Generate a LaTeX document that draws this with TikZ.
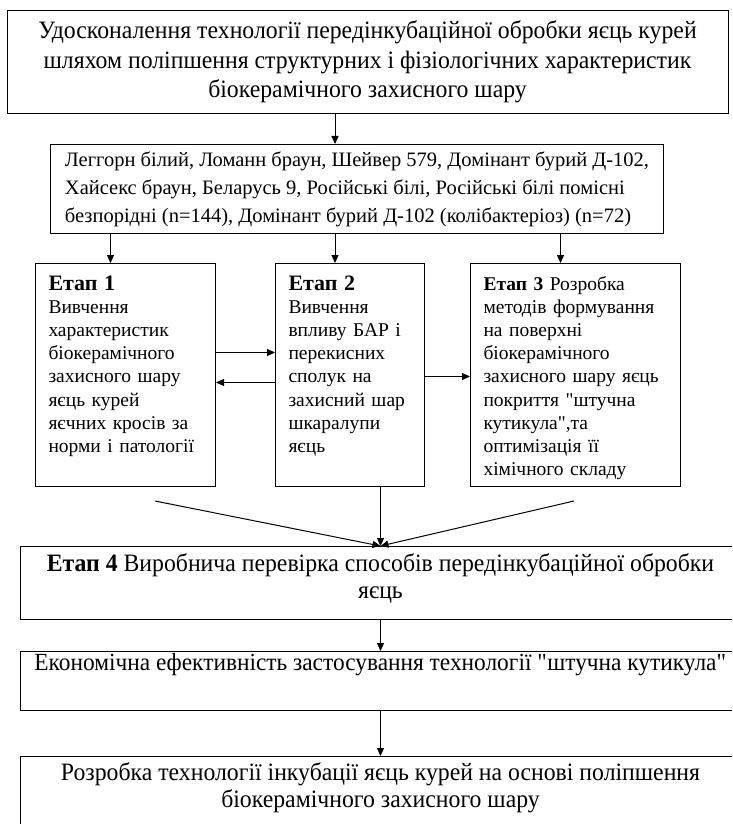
\documentclass[tikz,border=0pt]{standalone}
\usepackage{fontspec}
\setmainfont{Liberation Serif}
\newfontfamily\narrowserif{Liberation Serif}[FakeStretch=0.95]
\usetikzlibrary{arrows.meta}
\usetikzlibrary{positioning}
\tikzset{>={Triangle[length=8pt,width=7pt]}}
\newcommand\headsize{\narrowserif\fontsize{25}{29.5}\selectfont}
\newcommand\lowsize{\narrowserif\fontsize{25}{26.5}\selectfont}
\newcommand\breedsize{\fontsize{20.5}{28}\selectfont}
\newcommand\stagesize{\fontsize{19.5}{23.2}\selectfont}
\tikzset{
    frame/.style = {draw, line width=1pt},
    link/.style = {->, line width=1pt},
    goalbox/.style = {frame, font=\headsize, align=center, inner sep=0pt, minimum width=721pt, minimum height=103pt, anchor=north west},
    breedbox/.style = {frame, font=\breedsize, align=left, inner sep=0pt, minimum width=613pt, minimum height=89pt, anchor=north west},
    stagebox/.style = {frame, font=\stagesize, align=left, inner xsep=13pt, inner ysep=10.5pt, text height=16pt, text depth=186pt},
    widebox/.style = {frame, font=\lowsize, align=flush center, text width=716pt, inner xsep=2pt, inner ysep=4pt},
}
\newcommand\stagehead[1]{{\fontsize{22}{23.2}\selectfont\bfseries #1}}

\begin{document}
\begin{tikzpicture}[x=1pt,y=-1pt]
    \useasboundingbox (0,0) rectangle (732,824);
    \clip (0,0) rectangle (732,824);
    \node (goal) [goalbox] at (6.5,10) {Удосконалення технології передінкубаційної обробки яєць курей\\шляхом поліпшення структурних і фізіологічних характеристик\\біокерамічного захисного шару};
    \node (breeds) [breedbox] at (50,144) {Леггорн білий, Ломанн браун, Шейвер 579, Домінант бурий Д-102,\\Хайсекс браун, Беларусь 9, Російські білі, Російські білі помісні\\безпорідні (n=144), Домінант бурий Д-102 (колібактеріоз) (n=72)};
    \node (stage1) [stagebox, text width=154pt, anchor=north west] at (35,263) {\stagehead{Етап 1}\\Вивчення\\характеристик\\біокерамічного\\захисного шару\\яєць курей\\яєчних кросів за\\норми і патології};
    \node (stage2) [stagebox, text width=123pt, right=59pt of stage1] {\stagehead{Етап 2}\\Вивчення\\впливу БАР і\\перекисних\\сполук на\\захисний шар\\шкаралупи\\яєць};
    \node (stage3) [stagebox, text width=184pt, right=45pt of stage2] {\textbf{Етап 3} Розробка\\методів формування\\на поверхні\\біокерамічного\\захисного шару яєць\\покриття \textquotedbl штучна\\кутикула\textquotedbl,та\\оптимізація її\\хімічного складу};
    \node (stage4) [widebox, text height=21pt, text depth=44pt, anchor=north west] at (20,546) {\textbf{Етап 4} Виробнича перевірка способів передінкубаційної обробки\\яєць};
    \node (econ) [widebox, font=\narrowserif\fontsize{24.6}{26.5}\selectfont, text height=15pt, text depth=36pt, below=31pt of stage4] {Економічна ефективність застосування технології \textquotedbl штучна кутикула\textquotedbl\hspace*{14pt}};
    \node (result) [widebox, text height=20pt, text depth=78pt, below=45pt of econ] {Розробка технології інкубації яєць курей на основі поліпшення\\біокерамічного захисного шару};

    % arrows
    \coordinate (col) at ([xshift=-15pt]stage2.north);
    \draw[link] (goal.south -| col) -- (breeds.north -| col);
    \foreach \s in {stage1,stage2,stage3} {
        \coordinate (\s-in) at ([xshift=-15pt]\s.north);
        \draw[link] (breeds.south -| \s-in) -- (\s-in);
    }
    \draw[link] ([yshift=22.5pt]stage1.east) -- ([yshift=22.5pt]stage2.west);
    \draw[link] ([yshift=-7.5pt]stage2.west) -- ([yshift=-7.5pt]stage1.east);
    \draw[link] ([yshift=-1.5pt]stage2.east) -- ([yshift=-1.5pt]stage3.west);
    \coordinate (fromleft) at (155,501);
    \coordinate (fromright) at (574,501);
    \draw[link] (fromleft) -- (stage4.north);
    \draw[link] (fromright) -- (stage4.north);
    \draw[link] (stage2.south -| stage4.north) -- (stage4.north);
    \draw[link] (stage4.south) -- (econ.north);
    \draw[link] (econ.south) -- (result.north);
\end{tikzpicture}
\end{document}
